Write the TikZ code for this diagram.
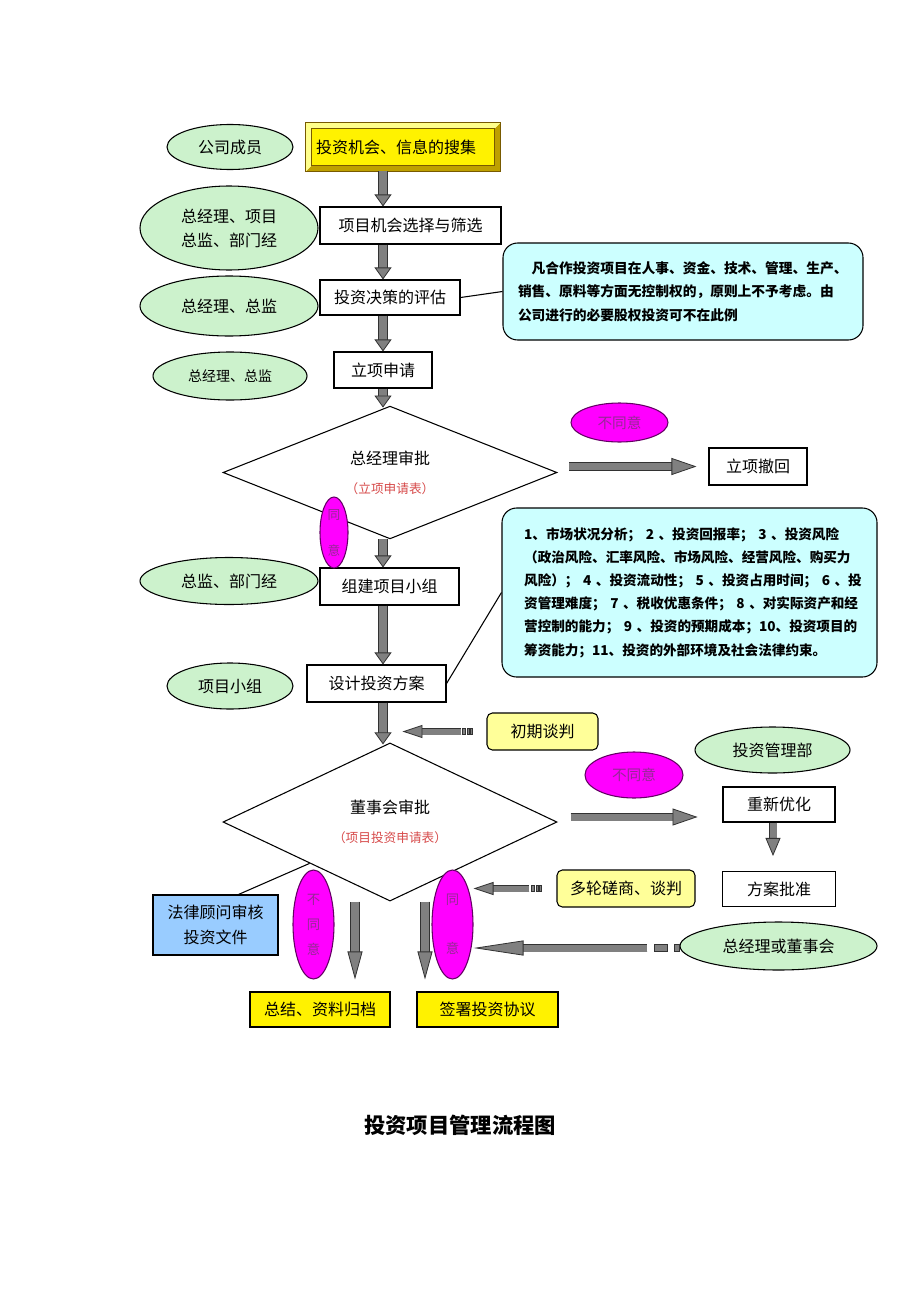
\documentclass[tikz,border=0pt]{standalone}
\usepackage{fontspec}
\setmainfont{Noto Sans CJK SC}
\usetikzlibrary{shapes.geometric,arrows.meta,calc}
\XeTeXlinebreaklocale "zh"
\XeTeXlinebreakskip=0pt plus 1pt
\definecolor{egreen}{RGB}{204,242,204}
\definecolor{ncyan}{RGB}{204,255,255}
\definecolor{pyellow}{RGB}{255,255,153}
\definecolor{lblue}{RGB}{153,204,255}
\definecolor{mag}{RGB}{255,0,255}
\definecolor{magline}{RGB}{100,0,100}
\definecolor{magtext}{RGB}{150,40,150}
\definecolor{redtxt}{RGB}{215,75,75}
\definecolor{agray}{RGB}{128,128,128}
\definecolor{adark}{RGB}{50,50,50}
\definecolor{bevlight}{RGB}{255,255,140}
\definecolor{bevdark}{RGB}{190,160,0}
\definecolor{bevline}{RGB}{120,90,0}
\tikzset{
  sz/.style 2 args={minimum width={#1*0.75pt}, minimum height={#2*0.75pt}},
  base/.style={inner sep=0pt, align=center, font=\fontsize{12pt}{18pt}\selectfont, text=black},
  box/.style={base, draw=black, line width=0.8pt, fill=white},
  ybox/.style={box, fill=yellow},
  pybox/.style={box, fill=pyellow, rounded corners=4pt},
  oval/.style={base, ellipse, draw=black, line width=0.8pt, fill=egreen},
  magoval/.style={base, ellipse, draw=magline, line width=0.8pt, fill=mag, text=magtext},
  dia/.style={base, diamond, draw=black, line width=0.8pt, fill=white},
  note/.style={base, draw=black, line width=0.8pt, fill=ncyan, rounded corners=11pt, align=left,
    font=\bfseries\fontsize{10.3pt}{17.5pt}\selectfont},
  fat/.style n args={3}{draw=adark, line width=0.4pt, double=agray, double distance=#1,
    -{Triangle[width=#2, length=#3, fill=agray, line width=0.6pt]}},
  blk/.style={fill=agray, draw=adark, line width=0.4pt},
}
\begin{document}
\begin{tikzpicture}[x=0.75pt,y=-0.75pt]
\fill[white] (0,0) rectangle (920,1302);
\useasboundingbox (0,0) rectangle (920,1302);

% ---- top bevel box
\path node[base, sz={194}{48}] (yb) at (403,147) {};
\fill[bevdark] (yb.south west) -- (yb.south east) -- (yb.north east) -- ($(yb.north east)+(-6,6)$)
  -- ($(yb.south east)+(-6,-6)$) -- ($(yb.south west)+(6,-6)$) -- cycle;
\fill[bevlight] (yb.north east) -- (yb.north west) -- (yb.south west) -- ($(yb.south west)+(6,-6)$)
  -- ($(yb.north west)+(6,6)$) -- ($(yb.north east)+(-6,6)$) -- cycle;
\fill[yellow] ($(yb.north west)+(6,6)$) rectangle ($(yb.south east)+(-6,-6)$);
\draw[bevline, line width=0.4pt] ($(yb.north west)+(6,6)$) rectangle ($(yb.south east)+(-6,-6)$);
\draw[bevline, line width=0.8pt] (yb.north west) rectangle (yb.south east);
\node[base] (ybt) at ($(yb.center)+(-7,0)$) {投资机会、信息的搜集};

% ---- left ovals
\node[oval, sz={126}{45}] (m1) at (230,147) {公司成员};
\node[oval, sz={178}{84}] (m2) at (229,228) {总经理、项目\\总监、部门经};
\node[oval, sz={178}{60}] (m3) at (229,306) {总经理、总监};
\node[oval, sz={154}{48}, font=\fontsize{10.5pt}{14pt}\selectfont] (m4) at (230,376) {总经理、总监};
\node[oval, sz={178}{47}] (m5) at (229,581) {总监、部门经};
\node[oval, sz={126}{46}] (m6) at (230,686) {项目小组};

% ---- main column
\node[box, sz={181}{37}] (b2) at (410.5,225.5) {项目机会选择与筛选};
\node[box, sz={140}{35}] (eval) at (390,297.5) {投资决策的评估};
\node[box, sz={98}{36}] (apply) at (383,370) {立项申请};
\node[dia, sz={334}{95}] (d1) at (390,472.5)
  {总经理审批\\[4pt]{\color{redtxt}\fontsize{9.5pt}{12pt}\selectfont （立项申请表）}};
\node[box, sz={139}{37}] (team) at (389.5,586.5) {组建项目小组};
\node[box, sz={139}{37}] (design) at (376.5,683.5) {设计投资方案};
\node[dia, sz={334}{96}] (d2) at (390,822)
  {董事会审批\\[4pt]{\color{redtxt}\fontsize{9.5pt}{12pt}\selectfont （项目投资申请表）}};

% ---- notes
\node[note, sz={360}{97}, inner xsep=11.25pt, text width=247.5pt] (note1) at (683,291.5)
  {\hspace*{1em}凡合作投资项目在人事、资金、技术、管理、生产、\\
   销售、原料等方面无控制权的，原则上不予考虑。由\\
   公司进行的必要股权投资可不在此例};
\node[note, sz={375}{169}, inner xsep=16.5pt, text width=248pt, font=\bfseries\fontsize{10.2pt}{17.4pt}\selectfont] (note2) at (689.5,592.5)
  {\makebox[248pt][s]{1、市场状况分析； 2 、投资回报率； 3 、投资风险}\\
   \makebox[248pt][s]{（政治风险、汇率风险、市场风险、经营风险、购买力}\\
   \makebox[248pt][s]{风险）； 4 、投资流动性； 5 、投资占用时间； 6 、投}\\
   \makebox[248pt][s]{资管理难度； 7 、税收优惠条件； 8 、对实际资产和经}\\
   \makebox[248pt][s]{营控制的能力； 9 、投资的预期成本；10、投资项目的}\\
   筹资能力；11、投资的外部环境及社会法律约束。};

% ---- right side
\node[magoval, sz={97}{39}, font=\fontsize{11pt}{14pt}\selectfont] (no1) at (619.5,422.5) {不同意};
\node[box, sz={98}{37}] (withdraw) at (758,466.5) {立项撤回};
\node[magoval, sz={28}{71}, font=\fontsize{9.5pt}{27pt}\selectfont] (yes1) at (334,532.5) {同\\意};
\node[pybox, sz={111}{37}] (neg1) at (542.5,731.5) {初期谈判};
\node[oval, sz={155}{46}] (imd) at (772.5,750) {投资管理部};
\node[magoval, sz={98}{46}, font=\fontsize{11pt}{14pt}\selectfont] (no2) at (634,775) {不同意};
\node[box, sz={112}{35}] (opt) at (779,804.5) {重新优化};
\node[box, sz={113}{35}] (appr) at (779,889) {方案批准};
\node[pybox, sz={138}{37}] (neg2) at (626,888.5) {多轮磋商、谈判};
\node[oval, sz={197}{48}] (gmb) at (778.5,946) {总经理或董事会};

% ---- bottom
\node[box, fill=lblue, sz={125}{60}, font=\fontsize{12pt}{18.75pt}\selectfont] (legal) at (215.5,925) {法律顾问审核\\投资文件};
\node[magoval, sz={41}{109}, font=\fontsize{10pt}{18.75pt}\selectfont] (no3) at (313.5,924.5) {不\\同\\意};
\node[magoval, sz={41}{109}, font=\fontsize{10pt}{36.75pt}\selectfont] (yes3) at (452.5,924.5) {同\\意};
\node[ybox, sz={140}{35}] (sum) at (320,1009.5) {总结、资料归档};
\node[ybox, sz={141}{35}] (sign) at (487.5,1009.5) {签署投资协议};

\node[base, font=\bfseries\fontsize{16pt}{20pt}\selectfont] (title) at (460,1125) {投资项目管理流程图};

% ---- thin connectors
\draw[line width=0.8pt] (eval.east) -- (note1.west);
\draw[line width=0.8pt] (design.east) -- (note2.west);
\draw[line width=0.8pt] ($(legal.north)+(23,0)$) -- ($(d2.west)!0.52!(d2.south)$);

% ---- fat arrows
\coordinate (ax) at (383,0);
\coordinate (lx) at (355,0);
\coordinate (rx) at (425,0);
\coordinate (ox) at (773,0);
\tikzset{fatV/.style={fat={6pt}{12.75pt}{9pt}}}
\draw[fatV] (yb.south -| ax) -- (b2.north -| ax);
\draw[fatV] (b2.south -| ax) -- (eval.north -| ax);
\draw[fatV] (eval.south -| ax) -- (apply.north -| ax);
\draw[fatV] (apply.south -| ax) -- ($(d1.north -| ax)+(0,2)$);
\draw[fatV] (d1.south -| ax) -- (team.north -| ax);
\draw[fatV] (team.south -| ax) -- (design.north -| ax);
\draw[fatV] (design.south -| ax) -- ($(d2.north -| ax)+(0,2)$);

\draw[fat={5.25pt}{12.75pt}{18.75pt}] ($(withdraw.west)+(-139,0)$) -- ($(withdraw.west)+(-12,0)$);
\draw[fat={5.25pt}{12.75pt}{18.75pt}] ($(d2.east)+(13,-5)$) -- ($(d2.east)+(140,-5)$);

\draw[fat={5.25pt}{11.25pt}{13.5pt}] (opt.south -| ox) -- ($(appr.north -| ox)+(0,-15)$);

\draw[fat={6pt}{11.25pt}{21pt}] (d2.south -| lx) -- ($(sum.north -| lx)+(0,-12)$);
\draw[fat={6pt}{11.25pt}{21pt}] (d2.south -| rx) -- ($(sign.north -| rx)+(0,-12)$);

% left-pointing arrows with striped tails
\coordinate (t1) at ($(neg1.west)+(-25,0)$);
\draw[fat={4.5pt}{9.75pt}{15pt}] (t1) -- ($(t1)+(-59,0)$);
\filldraw[blk] ($(t1)+(1,-3)$) rectangle ($(t1)+(4,3)$);
\filldraw[blk] ($(t1)+(5.5,-3)$) rectangle ($(t1)+(7.5,3)$);
\filldraw[blk] ($(t1)+(9,-3)$) rectangle ($(t1)+(11,3)$);

\coordinate (t2) at ($(neg2.west)+(-27,0)$);
\draw[fat={4.5pt}{9.75pt}{15pt}] (t2) -- (yes3.east |- t2);
\filldraw[blk] ($(t2)+(2,-3)$) rectangle ($(t2)+(5,3)$);
\filldraw[blk] ($(t2)+(6.5,-3)$) rectangle ($(t2)+(8.5,3)$);
\filldraw[blk] ($(t2)+(10,-3)$) rectangle ($(t2)+(12,3)$);

\coordinate (t3) at ($(gmb.west)+(-32,2)$);
\draw[fat={5.25pt}{11.25pt}{37.5pt}] (t3) -- (yes3.east |- t3);
\filldraw[blk] ($(t3)+(7,-3.5)$) rectangle ($(t3)+(20,3.5)$);
\filldraw[blk] ($(t3)+(27,-3.5)$) rectangle ($(t3)+(32,3.5)$);
\end{tikzpicture}
\end{document}
